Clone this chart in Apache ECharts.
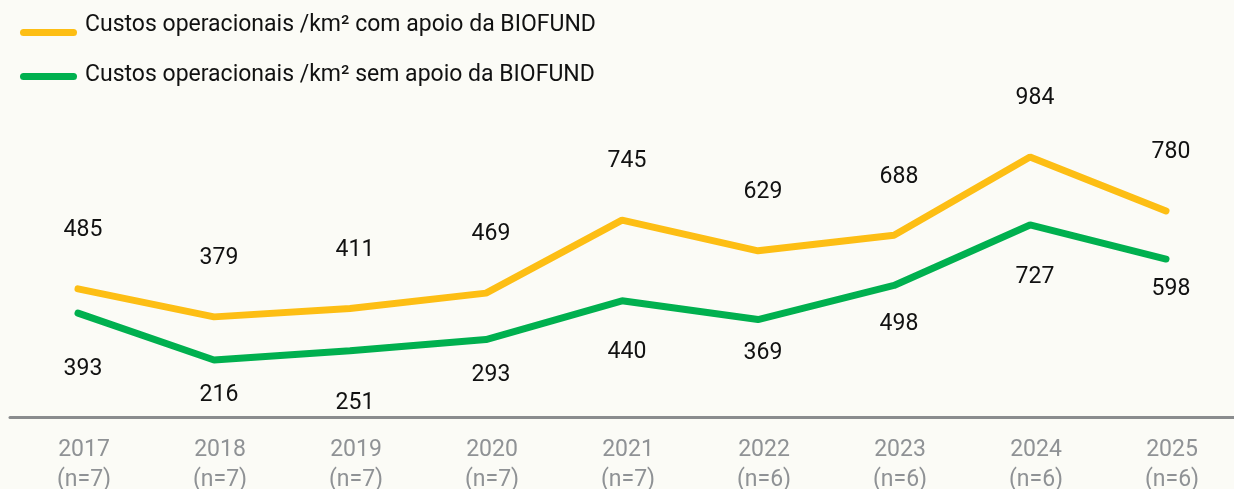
<!DOCTYPE html>
<html>
<head>
<meta charset="utf-8">
<script src="https://cdn.jsdelivr.net/npm/echarts@6/dist/echarts.min.js"></script>
<style>
  html, body { margin: 0; padding: 0; background: #fbfbf6; }
  #chart { width: 1234px; height: 489px; }
</style>
</head>
<body>
<div id="chart"></div>
<script>
// dados
var years = ["2017", "2018", "2019", "2020", "2021", "2022", "2023", "2024", "2025"];
var sampleSizes = ["n=7", "n=7", "n=7", "n=7", "n=7", "n=6", "n=6", "n=6", "n=6"];
var comApoio = [485, 379, 411, 469, 745, 629, 688, 984, 780];
var semApoio = [393, 216, 251, 293, 440, 369, 498, 727, 598];

// distancia dos rotulos verdes (abaixo da linha)
var semApoioLabelGap = [44, 23, 40, 23, 39, 21, 26, 40, 18];

var nomeCom = "Custos operacionais /km² com apoio da BIOFUND";
var nomeSem = "Custos operacionais /km² sem apoio da BIOFUND";

var categories = years.map(function (y, i) {
  return y + "\n(" + sampleSizes[i] + ")";
});

var capsule = "path://M3.5,0H53.5A3.5,3.5 0 0 1 53.5,7H3.5A3.5,3.5 0 0 1 3.5,0Z";

var chart = echarts.init(document.getElementById("chart"));
var option = {
  backgroundColor: "#fbfbf6",
  textStyle: { fontFamily: "Roboto" },
  legend: {
    orient: "vertical",
    left: 15,
    top: 9,
    itemWidth: 57,
    itemHeight: 7,
    itemGap: 13,
    formatter: function (name) {
      return (name === nomeCom ? "{a|" : "{b|") + name + "}";
    },
    textStyle: {
      color: "#111",
      rich: {
        a: { fontSize: 23, color: "#111", lineHeight: 24, padding: [0, 0, 14, 3] },
        b: { fontSize: 23, color: "#111", lineHeight: 24, padding: [0, 0, 2, 3] }
      }
    },
    data: [
      { name: nomeCom, icon: capsule },
      { name: nomeSem, icon: capsule }
    ]
  },
  grid: { left: 10, right: 0, top: 100, bottom: 72, outerBoundsMode: "none", containLabel: false },
  xAxis: {
    type: "category",
    data: categories,
    boundaryGap: true,
    axisLine: { lineStyle: { color: "#8a8c8e", width: 3 } },
    axisTick: { show: false },
    axisLabel: {
      color: "#8f9295",
      fontSize: 23,
      lineHeight: 30,
      margin: 18,
      padding: [0, 0, 0, 12]
    }
  },
  yAxis: {
    type: "value",
    min: 0,
    max: 1200,
    show: false,
    splitLine: { show: false }
  },
  series: [
    {
      name: nomeCom,
      type: "line",
      data: comApoio,
      symbol: "circle",
      symbolSize: 2,
      color: "#fdbe14",
      lineStyle: { width: 7, color: "#fdbe14", cap: "round" },
      label: {
        show: true,
        position: "top",
        distance: 46,
        offset: [5, 0],
        fontSize: 23,
        color: "#111"
      },
      z: 3
    },
    {
      name: nomeSem,
      type: "line",
      data: semApoio.map(function (v, i) {
        return { value: v, label: { distance: semApoioLabelGap[i] } };
      }),
      symbol: "circle",
      symbolSize: 2,
      color: "#00b04f",
      lineStyle: { width: 7, color: "#00b04f", cap: "round" },
      label: {
        show: true,
        position: "bottom",
        offset: [5, 0],
        fontSize: 23,
        color: "#111"
      },
      z: 3
    }
  ]
};
chart.setOption(option);
</script>
</body>
</html>
